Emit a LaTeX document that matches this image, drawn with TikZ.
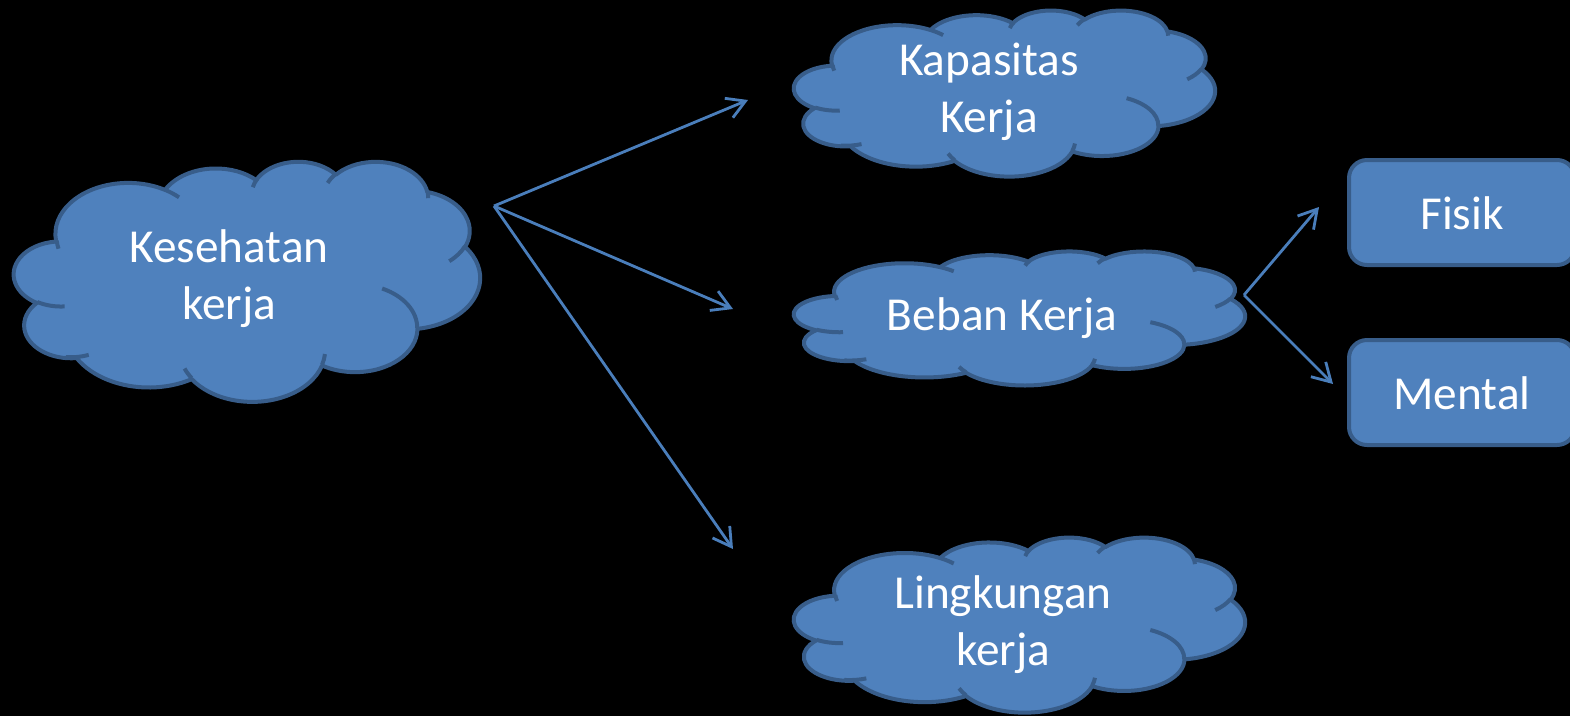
\documentclass[tikz,border=0pt]{standalone}
\usepackage{fontspec}
\setmainfont{Carlito}
\usetikzlibrary{arrows.meta}
\definecolor{cfill}{HTML}{4F81BD}
\definecolor{cline}{HTML}{385D8A}
\definecolor{carrow}{HTML}{4A7EBB}
\newcommand\twolines[2]{\vtop{\baselineskip=57pt\relax\halign{\hfil##\hfil\cr#1\cr#2\cr}}}
\tikzset{
 ca/.style n args={4}{x radius=#1, y radius=#2,
   start angle={atan2((#1)*sin(#3),(#2)*cos(#3))},
   delta angle={(#4)+Mod(atan2((#1)*sin((#3)+(#4)),(#2)*cos((#3)+(#4)))-atan2((#1)*sin(#3),(#2)*cos(#3))-(#4)+180,360)-180}},
 cloudline/.style={draw=cline, line width=4pt, line join=round},
 lbl/.style={text=white, font=\fontsize{47.3}{57}\selectfont, inner sep=0pt},
 rbox/.style={lbl, fill=cfill, draw=cline, line width=4pt, rounded corners=18pt, minimum width=226pt, minimum height=105pt, text height=33pt, text depth=0pt},
 conn/.style={draw=carrow, line width=2.8pt, -{Straight Barb[length=18pt,width=21pt]}},
}
\newcommand\pptcloud[4]{%
\begin{scope}[shift={(#1,#2)}, xscale=#3/43.2, yscale=#4/43.2]
\path[cloudline, fill=cfill] (3.900,14.370)
 arc[ca={6.753}{9.190}{-190.4875}{123.7805}]
 arc[ca={5.333}{7.267}{-144.1024}{89.9452}]
 arc[ca={4.365}{5.945}{-145.8079}{99.7230}]
 arc[ca={4.857}{6.595}{-130.9861}{117.2417}]
 arc[ca={5.333}{7.273}{-78.7089}{109.0269}]
 arc[ca={6.775}{9.220}{-46.2673}{130.2690}]
 arc[ca={5.785}{7.867}{0.6250}{114.0333}]
 arc[ca={6.752}{9.215}{22.4516}{115.1726}]
 arc[ca={7.720}{10.543}{66.2426}{75.7110}]
 arc[ca={4.360}{5.918}{-274.9421}{146.7356}]
 arc[ca={4.345}{5.945}{-246.8285}{152.5189}]
 -- cycle;
\path[cloudline]
 (4.693,26.177) arc[ca={4.345}{5.945}{86.7420}{26.4295}]
 (6.928,34.899) arc[ca={4.360}{5.918}{73.6105}{21.2749}]
 (16.478,39.090) arc[ca={6.752}{9.215}{137.6242}{14.0694}]
 (28.827,34.751) arc[ca={6.752}{9.215}{6.4533}{15.9984}]
 (34.129,22.954) arc[ca={5.785}{7.867}{-70.2924}{70.9174}]
 (41.798,15.354) arc[ca={5.333}{7.273}{30.3180}{27.7515}]
 (38.324,5.426) arc[ca={4.857}{6.595}{-13.7443}{14.8589}]
 (29.078,3.952) arc[ca={4.857}{6.595}{-149.1815}{18.1954}]
 (22.141,4.720) arc[ca={4.365}{5.945}{-163.4943}{18.7769}]
 (14.000,5.192) arc[ca={6.753}{9.190}{-66.7070}{12.3194}]
 (4.127,15.789) arc[ca={6.753}{9.190}{162.0393}{12.3472}];
\end{scope}}
\begin{document}
\begin{tikzpicture}[x=1pt, y=-1pt]
\useasboundingbox (0,0) rectangle (1570,716);
\fill[black] (0,0) rectangle (1570,716);
\clip (0,0) rectangle (1570,716);
% clouds
\pptcloud{14}{161}{466}{240}
\pptcloud{794}{10}{421}{166}
\pptcloud{794}{251}{451}{134}
\pptcloud{794}{537}{451}{175}
% cloud texts
\node[lbl, anchor=base] (kes) at (229,262) {\twolines{Kesehatan}{kerja}};
\node[lbl, anchor=base] (kap) at (989,75) {\twolines{Kapasitas}{Kerja}};
\node[lbl, anchor=base] (beb) at (1002,330) {Beban Kerja};
\node[lbl, anchor=base] (lin) at (1003,608) {\twolines{Lingkungan}{kerja}};
% boxes
\node[rbox] (fis) at (1462,212.5) {Fisik};
\node[rbox] (men) at (1462,392.5) {Mental};
% connectors
\coordinate (h1) at (494,206);
\coordinate (t1) at (748,100);
\coordinate (t2) at (733,309);
\coordinate (t3) at (733,549);
\coordinate (h2) at (1244,295);
\coordinate (t4) at (1319,207);
\coordinate (t5) at (1333,384);
\draw[conn] (h1) -- (t1);
\draw[conn] (h1) -- (t2);
\draw[conn] (h1) -- (t3);
\draw[conn] (h2) -- (t4);
\draw[conn] (h2) -- (t5);
\end{tikzpicture}
\end{document}
